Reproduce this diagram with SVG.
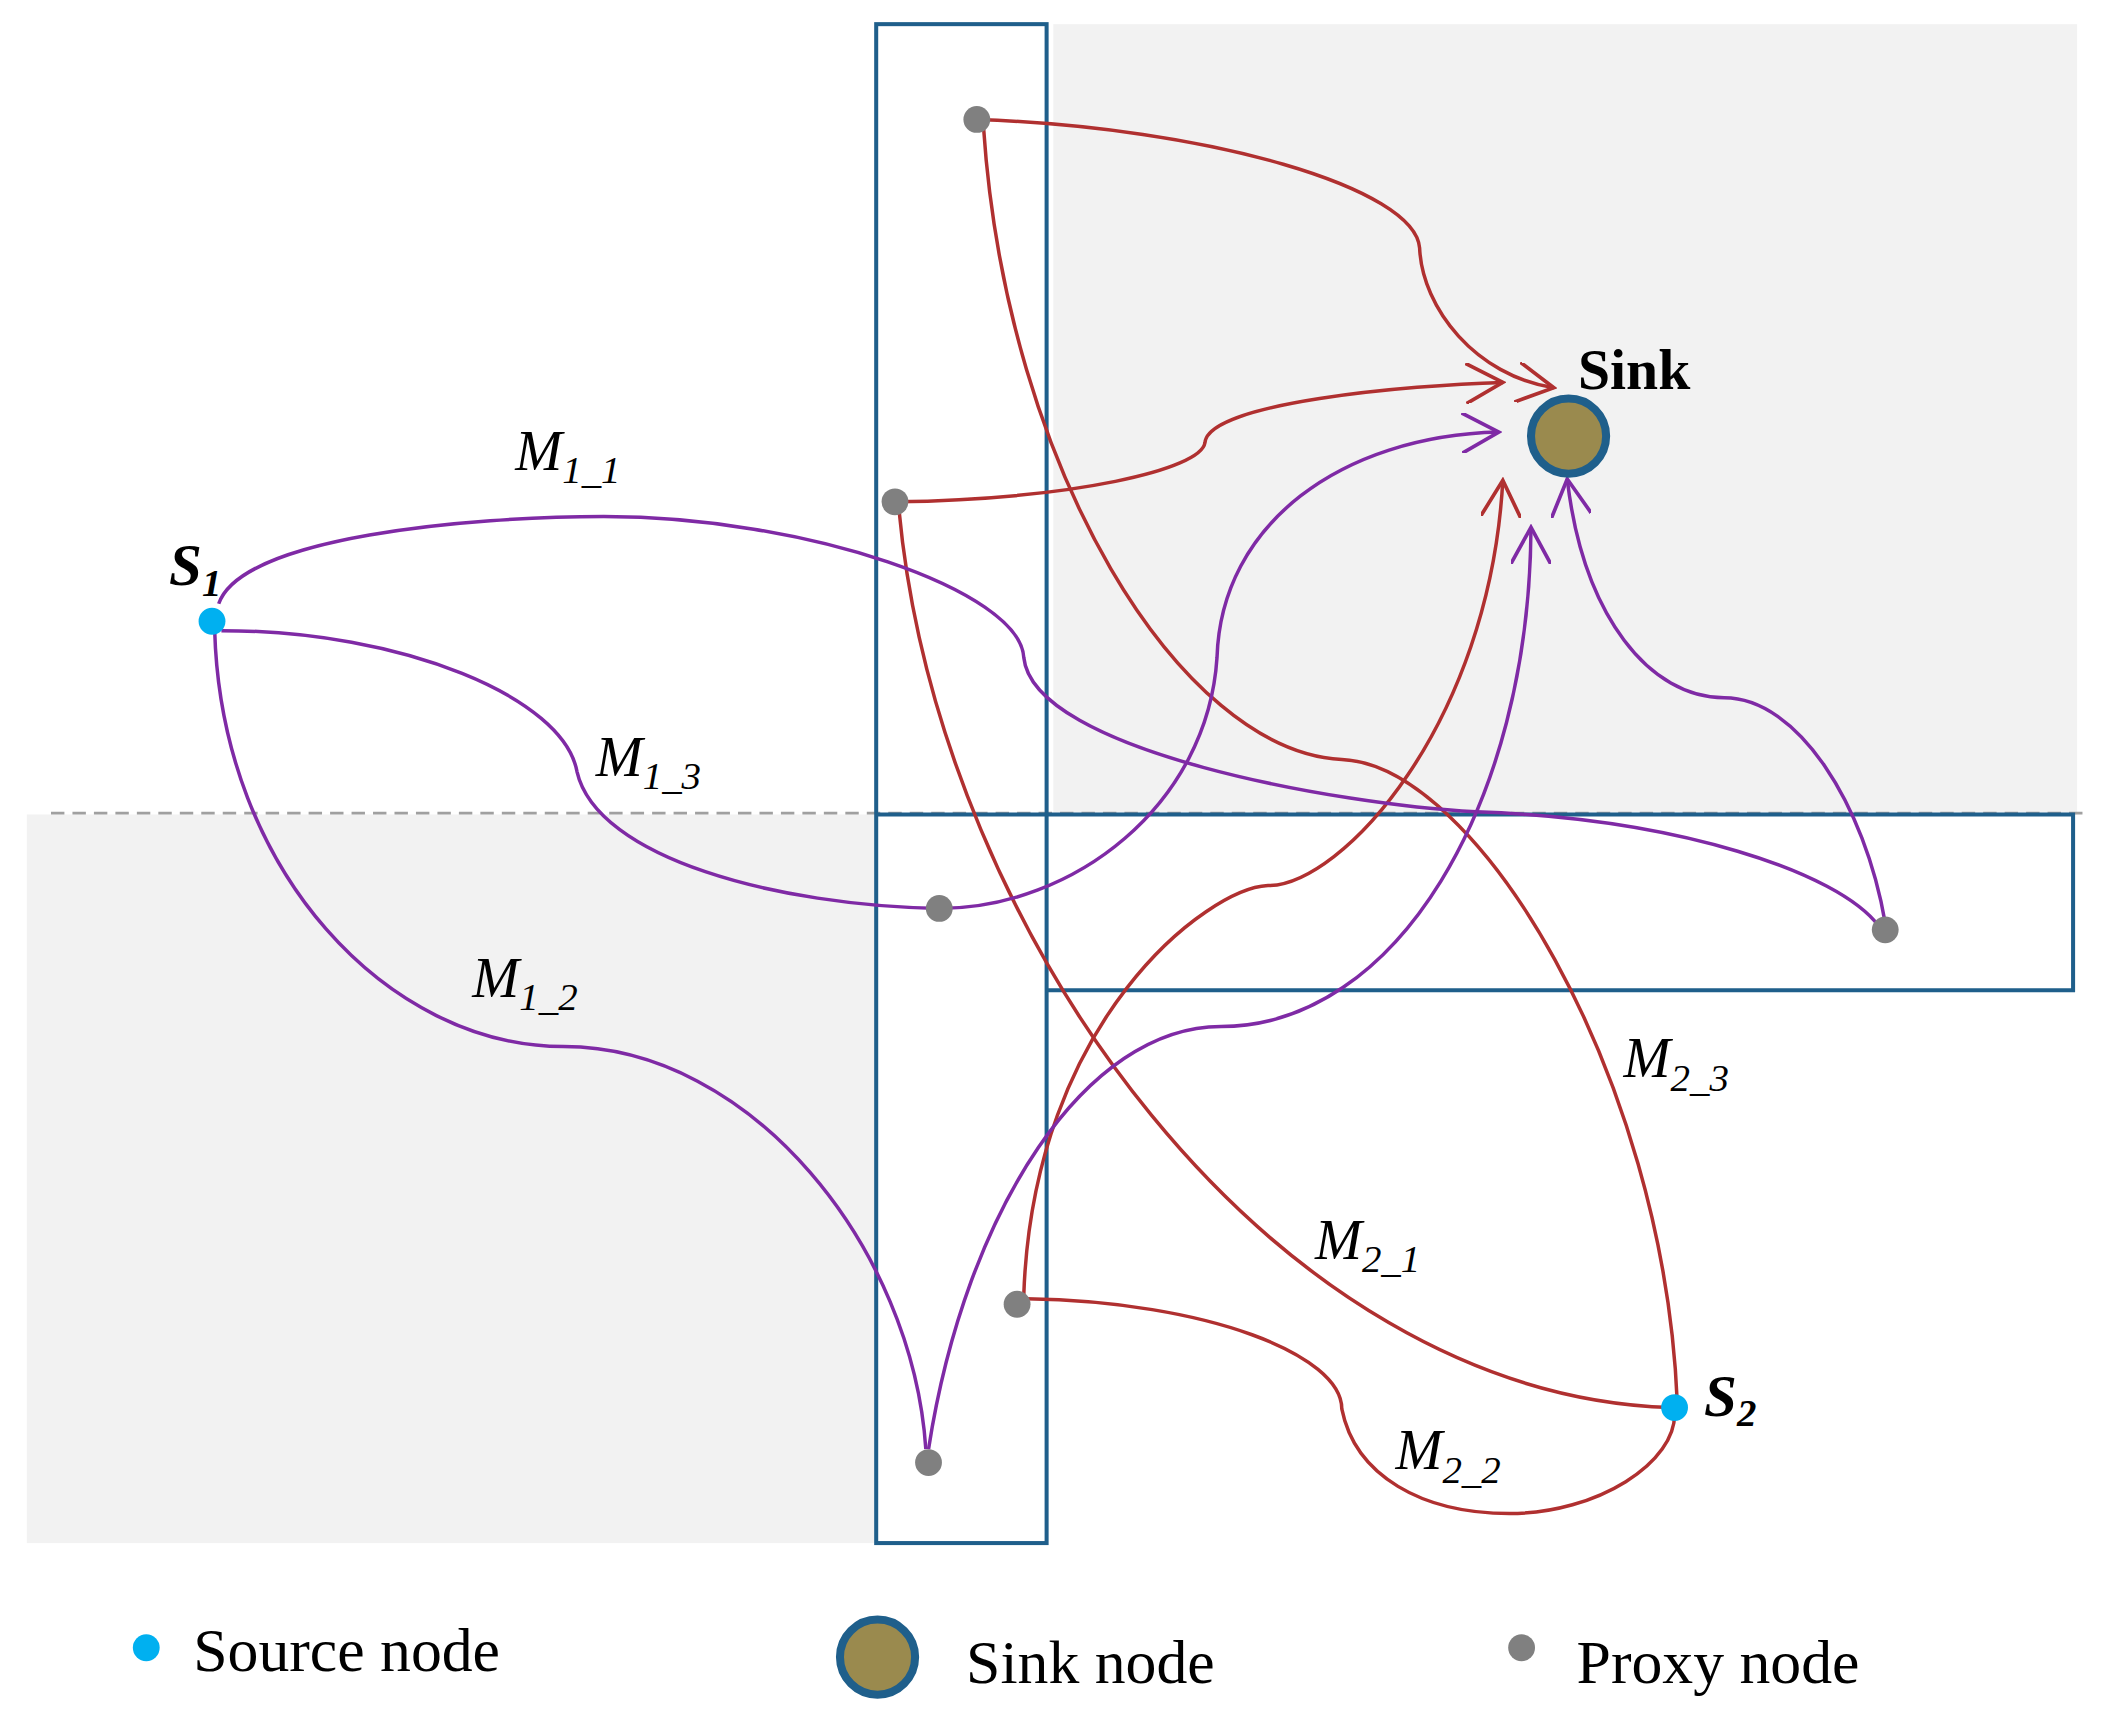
<svg xmlns="http://www.w3.org/2000/svg" width="2104" height="1730" viewBox="0 0 2104 1730">
<defs>
<style>
.red{fill:none;stroke:#b03030;stroke-width:2.6}
.pur{fill:none;stroke:#7f2aa5;stroke-width:2.6}
.box{fill:none;stroke:#1f5f8b;stroke-width:3}
.px{fill:#808080}
.src{fill:#00b0f0}
.lab{font-family:"Liberation Serif",serif;font-style:italic;font-size:42px}
.sub{font-size:29px}
.leg{font-family:"Liberation Serif",serif;font-size:46px}
</style>
<marker id="ar2" viewBox="0 0 12 12" refX="11" refY="6" markerWidth="30" markerHeight="30" orient="auto" markerUnits="userSpaceOnUse">
<path d="M0,0 L11,6 L0,12" fill="none" stroke="#b03030" stroke-width="1.1"/>
</marker>
<marker id="ap" viewBox="0 0 12 12" refX="11" refY="6" markerWidth="30" markerHeight="30" orient="auto" markerUnits="userSpaceOnUse">
<path d="M0,0 L11,6 L0,12" fill="none" stroke="#7f2aa5" stroke-width="1.1"/>
</marker>
</defs>
<rect width="2104" height="1730" fill="#fff"/>
<g transform="scale(1.3418)">
<g id="regions">
<rect x="785" y="18" width="763" height="589" fill="#f2f2f2"/>
<rect x="20" y="607" width="632" height="543" fill="#f2f2f2"/>
<line x1="38" y1="606" x2="1555" y2="606" stroke="#a0a0a0" stroke-width="2" stroke-dasharray="10,6"/>
<rect class="box" x="653" y="18" width="127" height="1132"/>
<path class="box" d="M653,607 H1545 V738 H780"/>
</g>
<g id="connectors">
<path class="red" marker-end="url(#ar2)" d="M728,89 C900,95 1055,140 1058,185 C1060,230 1100,280 1158,289"/>
<path class="red" d="M733,95 C750,350 880,560 1000,566 C1100,570 1240,800 1250,1045"/>
<path class="red" marker-end="url(#ar2)" d="M667,374 C800,372 895,350 898,330 C900,300 1050,287 1120,285"/>
<path class="red" d="M670,380 C700,700 950,1040 1245,1049"/>
<path class="red" marker-end="url(#ar2)" d="M763,965 C770,760 900,662 945,660 C1000,660 1110,540 1120,358"/>
<path class="red" d="M765,968 C900,970 1000,1010 1000,1050 C1010,1100 1060,1128 1125,1128 C1190,1128 1250,1090 1248,1052"/>
<path class="pur" d="M163,450 C180,400 350,385 450,385 C600,385 760,440 763,490 C770,560 1000,600 1100,605 C1250,610 1370,650 1400,690"/>
<path class="pur" marker-end="url(#ap)" d="M165,470 C300,470 420,520 430,575 C445,640 580,675 700,677 C800,677 900,600 907,490 C910,390 1000,325 1117,322"/>
<path class="pur" d="M160,470 C165,650 290,780 420,780 C560,780 680,930 690,1080"/>
<path class="pur" marker-end="url(#ap)" d="M692,1080 C720,900 810,765 910,765 C1040,765 1140,600 1141,393"/>
<path class="pur" marker-end="url(#ap)" d="M1405,688 C1390,600 1340,520 1285,520 C1230,520 1180,460 1168,357"/>
</g>
<g id="sink"><circle cx="1169" cy="325" r="28" fill="#9a8a4e" stroke="#1f5f8b" stroke-width="6"/>
<text x="1176" y="290" font-family="Liberation Serif,serif" font-weight="bold" font-size="43">Sink</text></g>
<g id="s1"><circle class="src" cx="158" cy="463" r="10"/>
<text x="126" y="436" font-family="Liberation Serif,serif" font-weight="bold" font-style="italic" font-size="44">S<tspan class="sub" dy="8">1</tspan></text></g>
<g id="s2"><circle class="src" cx="1248" cy="1049" r="10"/>
<text x="1270" y="1055" font-family="Liberation Serif,serif" font-weight="bold" font-style="italic" font-size="44">S<tspan class="sub" dy="8">2</tspan></text></g>
<g id="proxies">
<circle class="px" cx="728" cy="89" r="10"/>
<circle class="px" cx="667" cy="374" r="10"/>
<circle class="px" cx="700" cy="677" r="10"/>
<circle class="px" cx="1405" cy="693" r="10"/>
<circle class="px" cx="758" cy="972" r="10"/>
<circle class="px" cx="692" cy="1090" r="10"/>
</g>
<g id="labels">
<text class="lab" x="384" y="350">M<tspan class="sub" dy="10">1_1</tspan></text>
<text class="lab" x="444" y="578">M<tspan class="sub" dy="10">1_3</tspan></text>
<text class="lab" x="352" y="743">M<tspan class="sub" dy="10">1_2</tspan></text>
<text class="lab" x="1210" y="803">M<tspan class="sub" dy="10">2_3</tspan></text>
<text class="lab" x="980" y="938">M<tspan class="sub" dy="10">2_1</tspan></text>
<text class="lab" x="1040" y="1095">M<tspan class="sub" dy="10">2_2</tspan></text>
</g>
<g id="legend">
<circle class="src" cx="109" cy="1228" r="10"/>
<text class="leg" x="144" y="1245">Source node</text>
<circle cx="654" cy="1235" r="28" fill="#9a8a4e" stroke="#1f5f8b" stroke-width="6"/>
<text class="leg" x="720" y="1254">Sink node</text>
<circle class="px" cx="1134" cy="1228" r="10"/>
<text class="leg" x="1175" y="1254">Proxy node</text>
</g>
</g>
</svg>
